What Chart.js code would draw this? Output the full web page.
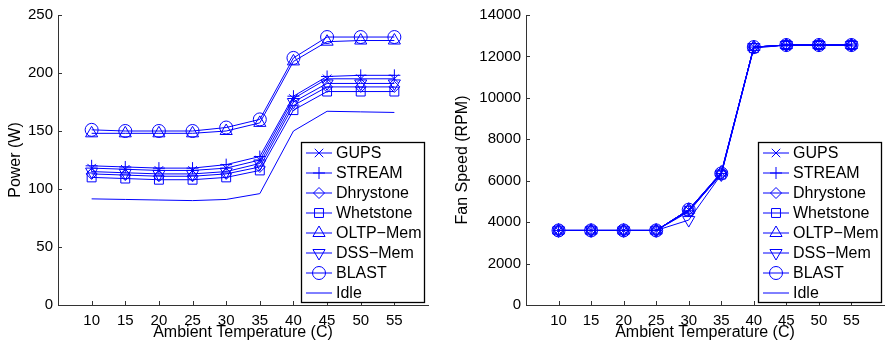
<!DOCTYPE html>
<html>
<head>
<meta charset="utf-8">
<script src="https://cdn.jsdelivr.net/npm/chart.js@4.4.1/dist/chart.umd.min.js"></script>
<style>
  html, body { margin: 0; padding: 0; background: #fff; }
  #wrap { position: relative; width: 892px; height: 343px; }
  canvas { position: absolute; top: 0; }
  #powerChart { left: 0; }
  #fanChart { left: 440px; }
</style>
</head>
<body>
<div id="wrap">
  <canvas id="powerChart" width="440" height="343"></canvas>
  <canvas id="fanChart" width="452" height="343"></canvas>
</div>
<script>
var temps = [10, 15, 20, 25, 30, 35, 40, 45, 50, 55];
var xTicks = [10, 15, 20, 25, 30, 35, 40, 45, 50, 55];
var seriesNames = ['GUPS', 'STREAM', 'Dhrystone', 'Whetstone', 'OLTP\u2212Mem', 'DSS\u2212Mem', 'BLAST', 'Idle'];

// power (W)
var powerGups      = [118, 117, 116, 116, 118, 125, 178, 195, 195, 195];
var powerStream    = [120, 119, 118, 118, 121, 128, 180, 197, 198, 198];
var powerDhrystone = [113, 112, 111, 111, 113, 119, 172, 188, 188, 188];
var powerWhetstone = [110, 109, 108, 108, 110, 116, 168, 184, 184, 184];
var powerOltp      = [148, 148, 148, 148, 150, 157, 210, 227, 228, 228];
var powerDss       = [115, 114, 113, 113, 115, 122, 175, 191, 191, 191];
var powerBlast     = [151, 150, 150, 150, 153, 160, 213, 231, 231, 231];
var powerIdle      = [91.5, 91, 90.5, 90, 91, 96, 150, 167, 166.5, 166];

// fan speed (RPM)
var fanGups      = [3600, 3600, 3600, 3600, 4600, 6400, 12450, 12550, 12550, 12550];
var fanStream    = [3600, 3600, 3600, 3600, 4550, 6350, 12450, 12550, 12550, 12550];
var fanDhrystone = [3600, 3600, 3600, 3600, 4600, 6350, 12450, 12550, 12550, 12550];
var fanWhetstone = [3600, 3600, 3600, 3600, 4550, 6300, 12400, 12550, 12550, 12550];
var fanOltp      = [3600, 3600, 3600, 3600, 4600, 6400, 12450, 12550, 12550, 12550];
var fanDss       = [3600, 3600, 3600, 3600, 4100, 6300, 12450, 12550, 12550, 12550];
var fanBlast     = [3600, 3600, 3600, 3600, 4600, 6350, 12450, 12550, 12550, 12550];
var fanIdle      = [3600, 3600, 3600, 3600, 4500, 6350, 12450, 12550, 12550, 12550];

var blue = '#0000ff';
var fontFamily = "'Liberation Sans', Arial, Helvetica, sans-serif";
var markers = [
    { style: 'crossRot', radius: 6, rotation: 0 },
    { style: 'cross', radius: 6, rotation: 0 },
    { style: 'rectRot', radius: 5.5, rotation: 0 },
    { style: 'rect', radius: 6.3, rotation: 0 },
    { style: 'triangle', radius: 7, rotation: 0 },
    { style: 'triangle', radius: 7, rotation: 180 },
    { style: 'circle', radius: 6.5, rotation: 0 },
    { style: 'circle', radius: 0, rotation: 0 },
];

function makeDatasets(seriesList) {
    return seriesList.map(function (values, i) {
        return {
            label: seriesNames[i],
            data: temps.map(function (t, j) { return { x: t, y: values[j] }; }),
            borderColor: blue,
            borderWidth: 1,
            pointStyle: markers[i].style,
            pointRadius: markers[i].radius,
            pointRotation: markers[i].rotation,
            pointBorderColor: blue,
            pointBorderWidth: 1,
            pointBackgroundColor: 'rgba(0,0,0,0)',
            tension: 0,
            fill: false,
        };
    });
}

// MATLAB style ticks pointing into the plot
var inwardTicks = {
    id: 'inwardTicks',
    afterDraw: function (chart) {
        var ctx = chart.ctx;
        var area = chart.chartArea;
        var xs = chart.scales.x, ys = chart.scales.y;
        ctx.save();
        ctx.strokeStyle = '#333';
        ctx.lineWidth = 1;
        ctx.beginPath();
        xs.ticks.forEach(function (t) {
            var px = Math.round(xs.getPixelForValue(t.value)) + 0.5;
            ctx.moveTo(px, area.bottom);
            ctx.lineTo(px, area.bottom - 4);
        });
        ys.ticks.forEach(function (t) {
            var py = Math.round(ys.getPixelForValue(t.value)) + 0.5;
            ctx.moveTo(area.left, py);
            ctx.lineTo(area.left + 4, py);
        });
        ctx.stroke();
        ctx.restore();
    }
};

// boxed legend inside the plot, bottom right
var boxLegend = {
    id: 'boxLegend',
    afterDraw: function (chart, args, opts) {
        var ctx = chart.ctx;
        var x = opts.left, y = opts.top;
        ctx.save();
        ctx.fillStyle = '#fff';
        ctx.fillRect(x, y, opts.width, opts.height);
        ctx.strokeStyle = '#000';
        ctx.lineWidth = 1.3;
        ctx.strokeRect(x + 0.5, y + 0.5, opts.width, opts.height);
        chart.data.datasets.forEach(function (ds, i) {
            var cy = y + 11 + i * 20;
            ctx.strokeStyle = ds.borderColor;
            ctx.lineWidth = 1;
            ctx.beginPath();
            ctx.moveTo(x + 5, cy);
            ctx.lineTo(x + 31, cy);
            ctx.stroke();
            if (ds.pointRadius > 0 && Chart.helpers && Chart.helpers.drawPoint) {
                ctx.fillStyle = 'rgba(0,0,0,0)';
                Chart.helpers.drawPoint(ctx, {
                    pointStyle: ds.pointStyle,
                    radius: ds.pointRadius,
                    rotation: ds.pointRotation,
                    borderWidth: 1
                }, x + 18, cy);
            }
            ctx.fillStyle = '#000';
            ctx.font = '16px ' + fontFamily;
            ctx.textBaseline = 'middle';
            ctx.textAlign = 'left';
            ctx.fillText(ds.label, x + 35, cy + 1);
        });
        ctx.restore();
    }
};

function makeChart(id, seriesList, yMax, yStep, yTitle, yWidth, yTitlePad, padRight) {
    var ctx = document.getElementById(id).getContext('2d');
    return new Chart(ctx, {
        type: 'line',
        data: { datasets: makeDatasets(seriesList) },
        plugins: [inwardTicks, boxLegend],
        options: {
            responsive: false,
            animation: false,
            devicePixelRatio: 1,
            layout: { padding: { top: 15, right: padRight, left: 0, bottom: 0 } },
            plugins: {
                legend: { display: false },
                tooltip: { enabled: false },
                boxLegend: { left: id === 'powerChart' ? 301 : 318, top: 142, width: 123, height: 160 },
            },
            scales: {
                x: {
                    type: 'linear',
                    min: 5,
                    max: 60,
                    afterBuildTicks: function (scale) {
                        scale.ticks = xTicks.map(function (v) { return { value: v }; });
                    },
                    afterFit: function (scale) { scale.height = 38; },
                    grid: { display: false, drawTicks: false },
                    border: { display: true, color: '#333', width: 1 },
                    ticks: { color: '#000', padding: 7, maxRotation: 0, font: { family: fontFamily, size: 15 } },
                    title: {
                        display: true,
                        text: 'Ambient Temperature (C)',
                        color: '#000',
                        padding: { top: 0, bottom: 1 },
                        font: { family: fontFamily, size: 16 },
                    },
                },
                y: {
                    min: 0,
                    max: yMax,
                    afterFit: function (scale) { scale.width = yWidth; },
                    grid: { display: false, drawTicks: false },
                    border: { display: true, color: '#333', width: 1 },
                    ticks: {
                        stepSize: yStep,
                        color: '#000',
                        padding: 5,
                        font: { family: fontFamily, size: 15 },
                        callback: function (v) { return String(v); },
                    },
                    title: {
                        display: true,
                        text: yTitle,
                        color: '#000',
                        padding: { top: yTitlePad, bottom: 0 },
                        font: { family: fontFamily, size: 16 },
                    },
                },
            },
        },
    });
}

makeChart('powerChart',
    [powerGups, powerStream, powerDhrystone, powerWhetstone, powerOltp, powerDss, powerBlast, powerIdle],
    250, 50, 'Power (W)', 58, 6, 12);

makeChart('fanChart',
    [fanGups, fanStream, fanDhrystone, fanWhetstone, fanOltp, fanDss, fanBlast, fanIdle],
    14000, 2000, 'Fan Speed (RPM)', 86, 13, 6);
</script>
</body>
</html>
